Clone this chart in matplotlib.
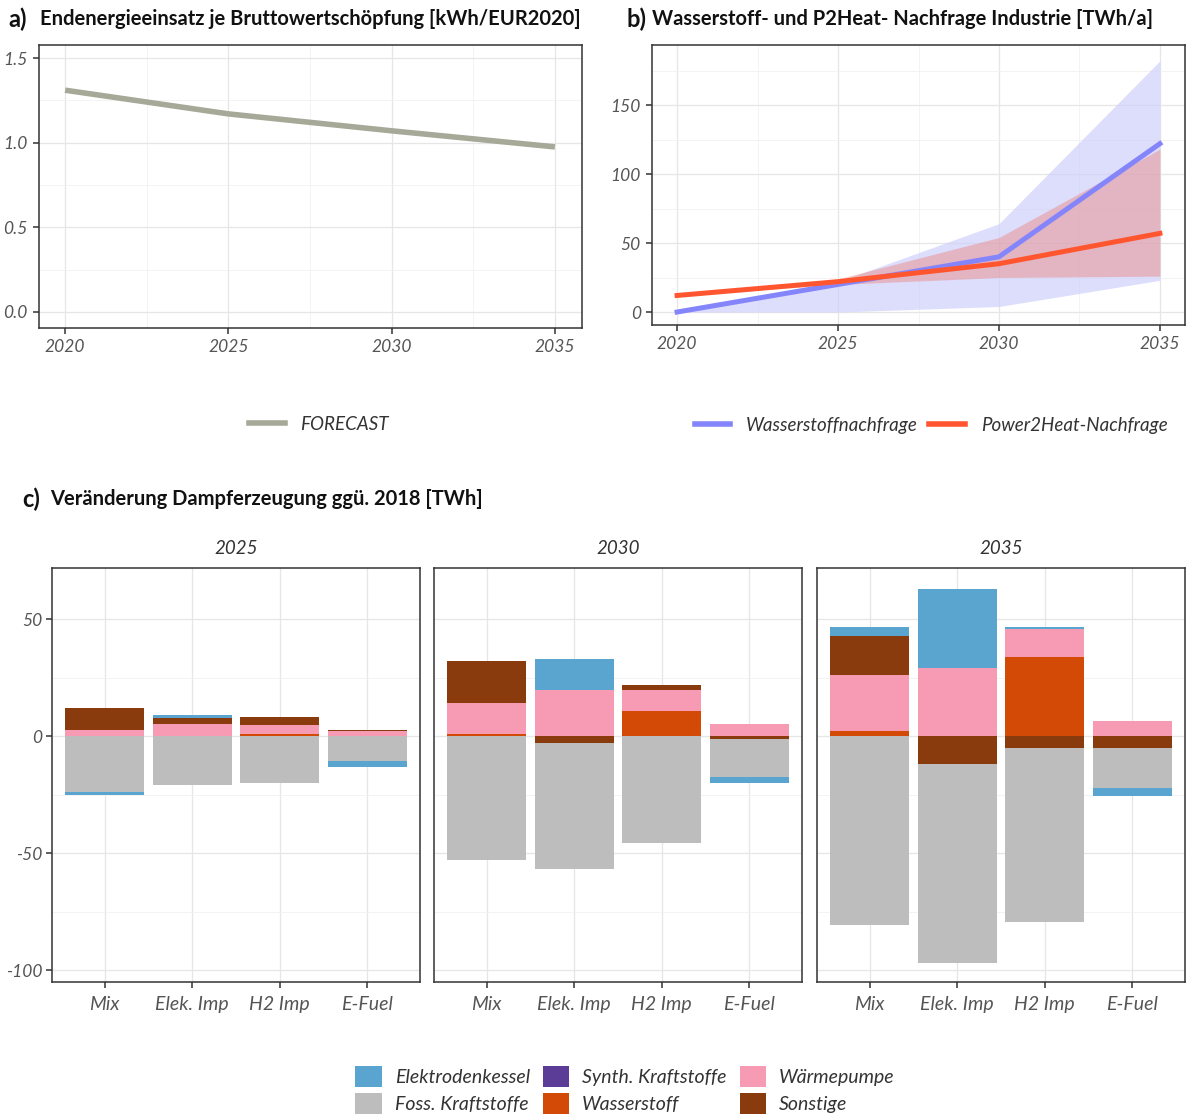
import matplotlib
matplotlib.use("Agg")
import matplotlib.pyplot as plt
import numpy as np
from matplotlib.patches import Patch
from matplotlib.lines import Line2D
from matplotlib.ticker import MultipleLocator, FormatStrFormatter

plt.rcParams['font.family'] = ['Lato', 'DejaVu Sans']
plt.rcParams['axes.unicode_minus'] = False

# ---------------- data ----------------
years = [2020, 2025, 2030, 2035]

# a) final energy per gross value added
intensity = [1.31, 1.17, 1.07, 0.975]

# b) hydrogen and power-to-heat demand in industry (TWh/a)
h2_demand = [0, 20, 40, 122]
h2_low = [0, 0, 4, 23]
h2_high = [0, 22, 64, 182]
p2h_demand = [12, 22, 35, 57]
p2h_low = [12, 20, 25, 26]
p2h_high = [12, 24, 54, 118]

# c) change in steam generation vs. 2018 (TWh); rows = facet years, cols = scenarios
facet_years = ["2025", "2030", "2035"]
scenarios = ["Mix", "Elek. Imp", "H2 Imp", "E-Fuel"]

elektrodenkessel = [[-1.0, 0.9, 0.0, -2.5],
                    [0.0, 13.0, 0.0, -2.5],
                    [4.1, 33.7, 0.8, -3.5]]
foss_kraftstoffe = [[-24.0, -20.9, -19.9, -10.7],
                    [-52.8, -53.6, -45.8, -16.3],
                    [-80.8, -85.1, -74.5, -17.0]]
synth_kraftstoffe = [[0.0, 0.0, 0.0, 0.0],
                     [0.0, 0.0, 0.0, 0.0],
                     [0.0, 0.0, 0.0, 0.0]]
wasserstoff = [[0.0, 0.0, 1.0, 0.0],
               [1.0, 0.0, 10.9, 0.0],
               [2.0, 0.0, 33.8, 0.0]]
waermepumpe = [[2.7, 5.1, 3.9, 2.0],
               [13.0, 19.8, 8.9, 5.0],
               [24.0, 29.0, 11.9, 6.6]]
sonstige = [[9.2, 2.8, 3.3, 0.7],
            [18.0, -3.1, 1.8, -1.1],
            [16.7, -11.9, -5.1, -5.1]]

carriers = ["Elektrodenkessel", "Foss. Kraftstoffe", "Synth. Kraftstoffe",
            "Wasserstoff", "Wärmepumpe", "Sonstige"]
carrier_values = {
    "Elektrodenkessel": elektrodenkessel,
    "Foss. Kraftstoffe": foss_kraftstoffe,
    "Synth. Kraftstoffe": synth_kraftstoffe,
    "Wasserstoff": wasserstoff,
    "Wärmepumpe": waermepumpe,
    "Sonstige": sonstige,
}
carrier_colors = {
    "Elektrodenkessel": "#5aa4d0",
    "Foss. Kraftstoffe": "#bdbdbd",
    "Synth. Kraftstoffe": "#5b3c96",
    "Wasserstoff": "#d24a06",
    "Wärmepumpe": "#f79ab4",
    "Sonstige": "#8a3b0e",
}
# stacking order outward from zero
stack_order = ["Wasserstoff", "Synth. Kraftstoffe", "Wärmepumpe",
               "Sonstige", "Foss. Kraftstoffe", "Elektrodenkessel"]

# ---------------- styling helpers ----------------
W, H = 1186, 1118
fig = plt.figure(figsize=(W / 100, H / 100), dpi=100)

TICK_COLOR = "#555555"
GRID = "#e6e6e6"


def px_box(l, t, r, b):
    return [l / W, 1 - b / H, (r - l) / W, (b - t) / H]


def style_axes(ax, labelsize=12.5, pad=3):
    ax.set_facecolor("white")
    for s in ax.spines.values():
        s.set_color("#333333")
        s.set_linewidth(1.1)
    ax.grid(True, which="major", color=GRID, lw=0.9)
    ax.grid(True, which="minor", color="#f1f1f1", lw=0.6)
    ax.set_axisbelow(True)
    ax.tick_params(which="major", length=4, width=1.1, color="#333333",
                   labelcolor=TICK_COLOR, labelsize=labelsize, pad=pad)
    ax.tick_params(which="minor", length=0)
    for lab in ax.get_xticklabels() + ax.get_yticklabels():
        lab.set_fontstyle("italic")


def title(tag_x, text_x, y, tag, text):
    fig.text(tag_x / W, 1 - y / H, tag, fontsize=17, fontweight="bold",
             va="center", ha="left", color="#111111")
    fig.text(text_x / W, 1 - y / H, text, fontsize=14.5, fontweight="bold",
             va="center", ha="left", color="#111111")


def legend_text_style(leg):
    for t in leg.get_texts():
        t.set_color("#333333")


# ---------------- panel a ----------------
ax_a = fig.add_axes(px_box(39, 45, 582, 328))
ax_a.plot(years, intensity, color="#a6a998", lw=4.0, solid_capstyle="butt")
ax_a.set_xlim(2019.2, 2035.83)
ax_a.set_ylim(-0.095, 1.577)
ax_a.set_xticks(years)
ax_a.xaxis.set_minor_locator(MultipleLocator(2.5))
ax_a.yaxis.set_major_locator(MultipleLocator(0.5))
ax_a.yaxis.set_minor_locator(MultipleLocator(0.25))
ax_a.yaxis.set_major_formatter(FormatStrFormatter("%.1f"))
style_axes(ax_a, pad=4)
title(8, 40, 19, "a)", "Endenergieeinsatz je Bruttowertschöpfung [kWh/EUR2020]")

leg_a = fig.legend(handles=[Line2D([], [], color="#a6a998", lw=4.0)],
                   labels=["FORECAST"], loc="center",
                   bbox_to_anchor=(319 / W, 1 - 424 / H), frameon=False,
                   handlelength=1.9, handletextpad=0.85,
                   prop={"size": 13.5, "style": "italic"})
legend_text_style(leg_a)

# ---------------- panel b ----------------
ax_b = fig.add_axes(px_box(652, 45, 1185, 325))
blue = "#8585fb"
red = "#ff5630"
ax_b.fill_between(years, h2_low, h2_high, color="#cfcffb", alpha=0.7, lw=0)
ax_b.plot(years, h2_demand, color=blue, lw=3.6)
ax_b.fill_between(years, p2h_low, p2h_high, color="#f07060", alpha=0.36, lw=0)
ax_b.plot(years, p2h_demand, color=red, lw=3.6)
ax_b.set_xlim(2019.22, 2035.78)
ax_b.set_ylim(-9.4, 193.5)
ax_b.set_xticks(years)
ax_b.xaxis.set_minor_locator(MultipleLocator(2.5))
ax_b.yaxis.set_major_locator(MultipleLocator(50))
ax_b.yaxis.set_minor_locator(MultipleLocator(25))
style_axes(ax_b, pad=4)
title(626, 652, 19, "b)", "Wasserstoff- und P2Heat- Nachfrage Industrie [TWh/a]")

leg_b = fig.legend(handles=[Line2D([], [], color=blue, lw=4),
                            Line2D([], [], color=red, lw=4)],
                   labels=["Wasserstoffnachfrage", "Power2Heat-Nachfrage"],
                   loc="center", ncol=2, columnspacing=0.6,
                   bbox_to_anchor=(931 / W, 1 - 425 / H), frameon=False,
                   handlelength=1.9, handletextpad=0.85,
                   prop={"size": 13.5, "style": "italic"})
legend_text_style(leg_b)

# ---------------- panel c ----------------
title(22, 50, 499, "c)", "Veränderung Dampferzeugung ggü. 2018 [TWh]")
facet_px = [(52, 420), (434, 802), (817, 1185)]
x = np.arange(len(scenarios))
for i, (yr, (l, r)) in enumerate(zip(facet_years, facet_px)):
    ax = fig.add_axes(px_box(l, 568, r, 982))
    pos_base = np.zeros(len(scenarios))
    neg_base = np.zeros(len(scenarios))
    for c in stack_order:
        vals = np.array(carrier_values[c][i], dtype=float)
        base = np.where(vals >= 0, pos_base, neg_base)
        ax.bar(x, vals, bottom=base, width=0.9, color=carrier_colors[c],
               lw=0)
        pos_base = pos_base + np.where(vals >= 0, vals, 0)
        neg_base = neg_base + np.where(vals < 0, vals, 0)
    ax.set_xlim(-0.6, 3.6)
    ax.set_ylim(-105.1, 71.8)
    ax.set_xticks(x)
    ax.set_xticklabels(scenarios)
    ax.yaxis.set_major_locator(MultipleLocator(50))
    ax.yaxis.set_minor_locator(MultipleLocator(25))
    style_axes(ax, labelsize=14, pad=6)
    ax.tick_params(axis="y", labelsize=12.5, pad=3)
    ax.grid(False, which="minor", axis="x")
    if i > 0:
        ax.tick_params(axis="y", which="both", left=False, labelleft=False)
    ax.set_title(yr, fontsize=13.5, fontstyle="italic", color="#333333", pad=10)

handles = [Patch(facecolor=carrier_colors[c], edgecolor="none") for c in carriers]
leg_c = fig.legend(handles=handles, labels=carriers, loc="center", ncol=3,
                   bbox_to_anchor=(625 / W, 1 - 1090 / H), frameon=False,
                   handlelength=1.35, handleheight=1.3, handletextpad=0.67,
                   columnspacing=0.67, labelspacing=0.3,
                   prop={"size": 14, "style": "italic"})
legend_text_style(leg_c)

fig.savefig("out.png", dpi=100, facecolor="white")
